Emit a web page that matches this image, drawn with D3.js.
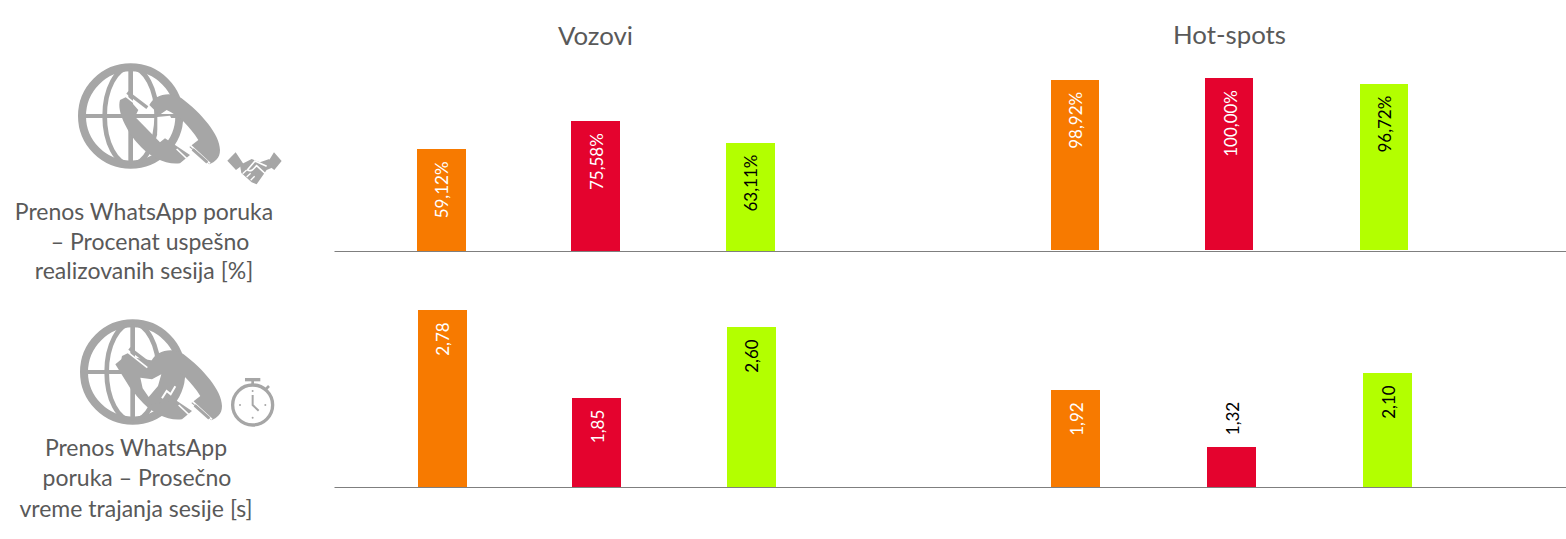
<!DOCTYPE html>
<html>
<head>
<meta charset="utf-8">
<script src="https://cdn.jsdelivr.net/npm/d3@7"></script>
<style>
	html, body { margin: 0; padding: 0; background: #fff; }
	svg { display: block; }
	text { font-family: Lato, "Open Sans", sans-serif; }
</style>
</head>
<body>
<script>
// data
var operators = ['op1', 'op2', 'op3'];
var operatorColors = ['#f77a00', '#e4032e', '#b3ff00'];
var labelColors = ['#fff', '#fff', '#000'];

var columnTitles = ['Vozovi', 'Hot-spots'];

var successTrains = [59.12, 75.58, 63.11];
var successHotspots = [98.92, 100.00, 96.72];
var durationTrains = [2.78, 1.85, 2.60];
var durationHotspots = [1.92, 1.32, 2.10];

var successDomain = [0, 100];
var durationDomain = [0.9, 2.8];

var successLabel = ['Prenos WhatsApp poruka', '– Procenat uspešno', 'realizovanih sesija [%]'];
var durationLabel = ['Prenos WhatsApp', 'poruka – Prosečno', 'vreme trajanja sesije [s]'];

var width = 1566, height = 539;
var grey = '#a6a6a6';

var svg = d3.select('body').append('svg')
	.attr('width', width)
	.attr('height', height);

// column titles
svg.selectAll('text.title')
	.data(columnTitles)
	.enter()
	.append('text')
	.attr('class', 'title')
	.attr('x', function(d, i) { return [595.5, 1229.5][i]; })
	.attr('y', function(d, i) { return [45, 44][i]; })
	.attr('text-anchor', 'middle')
	.attr('fill', '#595959')
	.style('font-size', '25.8px')
	.text(function(d) { return d; });

function comma(v) {
	return d3.format('.2f')(v).replace('.', ',');
}

// one group of three bars
function drawPanel(values, domain, suffix, baseline, barHeight, range, bandPx) {
	var step = (range[1] - range[0]) / operators.length;
	var p = 1 - bandPx / step;
	var x = d3.scaleBand().domain(operators).range(range).paddingInner(p).paddingOuter(p / 2);
	var y = d3.scaleLinear().domain(domain).range([baseline, baseline - barHeight]);
	var g = svg.append('g');

	g.selectAll('rect')
		.data(values)
		.enter()
		.append('rect')
		.attr('x', function(d, i) { return Math.round(x(operators[i])); })
		.attr('y', function(d) { return Math.round(y(d)); })
		.attr('width', Math.round(x.bandwidth()))
		.attr('height', function(d) { return baseline - Math.round(y(d)); })
		.attr('fill', function(d, i) { return operatorColors[i]; });

	g.selectAll('text')
		.data(values)
		.enter()
		.append('text')
		.attr('transform', function(d, i) {
			var cx = x(operators[i]) + x.bandwidth() / 2 + 1;
			var inside = baseline - y(d) > 48;
			return 'translate(' + cx + ',' + (inside ? y(d) + 12 : y(d) - 12) + ') rotate(-90)';
		})
		.attr('dy', '0.36em')
		.attr('text-anchor', function(d) { return baseline - y(d) > 48 ? 'end' : 'start'; })
		.attr('fill', function(d, i) { return baseline - y(d) > 48 ? labelColors[i] : '#000'; })
		.style('font-size', '17px')
		.text(function(d) { return comma(d) + suffix; });
}

drawPanel(successTrains, successDomain, '%', 251, 171.8, [363.5, 827.5], 48.5);
drawPanel(successHotspots, successDomain, '%', 250, 172, [997.75, 1461.25], 48.5);
drawPanel(durationTrains, durationDomain, '', 487, 178.5, [365.2, 827.9], 48.5);
drawPanel(durationHotspots, durationDomain, '', 487, 180, [997.5, 1465.5], 49);

// baseline of each row (the axis adds its own half pixel)
var axisScale = d3.scaleLinear().domain([0, 1]).range([334, 1566]);
[251, 487].forEach(function(yPos) {
	var a = svg.append('g')
		.attr('transform', 'translate(0,' + yPos + ')')
		.call(d3.axisBottom(axisScale).tickValues([]).tickSize(0));
	a.select('.domain').attr('stroke', '#7f7f7f').attr('stroke-width', 1);
});

// row descriptions on the left
function drawLabel(lines, xs, ys) {
	svg.append('g').selectAll('text')
		.data(lines)
		.enter()
		.append('text')
		.attr('x', function(d, i) { return xs[i]; })
		.attr('y', function(d, i) { return ys[i]; })
		.attr('text-anchor', 'middle')
		.attr('fill', '#595959')
		.style('font-size', '23px')
		.text(function(d) { return d; });
}
drawLabel(successLabel, [144, 150, 144], [220, 250, 279]);
drawLabel(durationLabel, [136, 137, 136], [456, 486, 517]);

// globe + handsets, drawn in zoomed crop coordinates (3x)
function drawGlobe(ox, oy, dense) {
	var g = svg.append('g')
		.attr('transform', 'translate(' + ox + ',' + oy + ') scale(0.3333)');
	g.append('circle').attr('cx', 182).attr('cy', 183).attr('r', 146)
		.attr('fill', 'none').attr('stroke', grey).attr('stroke-width', 24);
	g.append('ellipse').attr('cx', 182).attr('cy', 183).attr('rx', 78).attr('ry', 146)
		.attr('fill', 'none').attr('stroke', grey).attr('stroke-width', 14);
	g.append('line').attr('x1', 182).attr('y1', 40).attr('x2', 182).attr('y2', 328)
		.attr('stroke', grey).attr('stroke-width', 14);
	g.append('line').attr('x1', 40).attr('y1', 183).attr('x2', 320).attr('y2', 183)
		.attr('stroke', grey).attr('stroke-width', 12);

	// big handset
	g.append('path')
		.attr('d', 'M238 150 C250 122 300 104 335 130 C395 175 450 240 450 285 C450 310 435 320 418 328 L358 276 L385 255 C360 215 325 180 290 165 L268 180 Z')
		.attr('fill', grey);
	// small handset
	g.append('path')
		.attr('d', 'M150 135 L170 125 L205 165 L195 185 L270 262 L285 250 L360 300 L330 325 C290 330 240 310 200 262 C170 225 140 170 150 135 Z')
		.attr('fill', grey);
	// gap between the handsets, notched on its right edge
	g.append('path')
		.attr('d', 'M262 186 L300 182 L312 205 L296 214 L300 236 L276 246 L262 236 Z')
		.attr('fill', '#fff');

	if (dense) {
		// the second icon has fatter handsets, only a small heart stays white
		g.append('path')
			.attr('d', 'M130 160 L160 135 L250 150 L300 150 L330 210 L300 270 L240 280 L180 240 Z')
			.attr('fill', grey);
		g.append('path')
			.attr('d', 'M205 200 L240 205 L268 190 L258 225 L230 258 L212 232 Z')
			.attr('fill', '#fff');
		g.append('path')
			.attr('d', 'M270 262 L284 240 L296 250 L310 226')
			.attr('fill', 'none').attr('stroke', '#fff').attr('stroke-width', 6);
	}

	// top stripe of the small handset
	g.append('line').attr('x1', 172).attr('y1', 112).attr('x2', 232).attr('y2', 158)
		.attr('stroke', grey).attr('stroke-width', 10);
	g.append('line').attr('x1', 165).attr('y1', 122).attr('x2', 226).attr('y2', 170)
		.attr('stroke', '#fff').attr('stroke-width', 5);
	// white stripes of the mouthpieces
	g.append('line').attr('x1', 355).attr('y1', 265).attr('x2', 420).attr('y2', 325)
		.attr('stroke', '#fff').attr('stroke-width', 5);
	g.append('line').attr('x1', 368).attr('y1', 283).attr('x2', 412).attr('y2', 322)
		.attr('stroke', grey).attr('stroke-width', 9);
	g.append('line').attr('x1', 320).attr('y1', 282).attr('x2', 355).attr('y2', 315)
		.attr('stroke', '#fff').attr('stroke-width', 5);
	return g;
}
drawGlobe(70, 55, false);
drawGlobe(72, 311, true);

// handshake
var hs = svg.append('g').attr('transform', 'translate(70,55) scale(0.3333)');
hs.append('path')
	.attr('d', 'M472 317 L497 292 L521 328 L498 345 Z M635 318 L612 292 L590 328 L613 345 Z')
	.attr('fill', grey);
hs.append('path')
	.attr('d', 'M510 330 L545 312 L570 322 L598 312 L606 338 L590 345 L560 388 L545 382 L514 354 Z')
	.attr('fill', grey);
hs.append('path')
	.attr('d', 'M532 345 L555 318 L590 334 M532 345 C545 352 552 340 560 332 L590 360')
	.attr('fill', 'none').attr('stroke', '#fff').attr('stroke-width', 5);
hs.append('path')
	.attr('d', 'M518 356 L530 345 M530 366 L542 355 M542 376 L554 364')
	.attr('fill', 'none').attr('stroke', '#fff').attr('stroke-width', 4);

// stopwatch
var sw = svg.append('g').attr('transform', 'translate(70,310) scale(0.3333)');
sw.append('circle').attr('cx', 548).attr('cy', 285).attr('r', 60)
	.attr('fill', 'none').attr('stroke', grey).attr('stroke-width', 10);
sw.append('rect').attr('x', 525).attr('y', 204).attr('width', 46).attr('height', 10).attr('fill', grey);
sw.append('rect').attr('x', 544).attr('y', 212).attr('width', 8).attr('height', 14).attr('fill', grey);
sw.append('line').attr('x1', 585).attr('y1', 240).attr('x2', 597).attr('y2', 228)
	.attr('stroke', grey).attr('stroke-width', 8);
sw.append('path').attr('d', 'M548 255 L548 285 L566 302')
	.attr('fill', 'none').attr('stroke', grey).attr('stroke-width', 6);
sw.selectAll('circle.dot')
	.data([[548, 243], [510, 285], [586, 285], [548, 323]])
	.enter()
	.append('circle')
	.attr('class', 'dot')
	.attr('cx', function(d) { return d[0]; })
	.attr('cy', function(d) { return d[1]; })
	.attr('r', 3)
	.attr('fill', grey);
</script>
</body>
</html>
